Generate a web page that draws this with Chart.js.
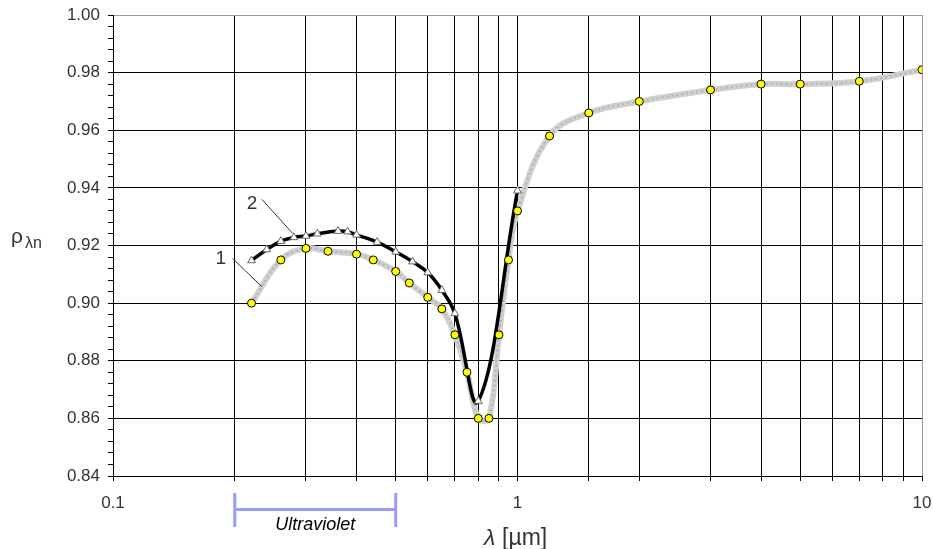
<!DOCTYPE html>
<html>
<head>
<meta charset="utf-8">
<script src="https://cdn.jsdelivr.net/npm/chart.js@4/dist/chart.umd.min.js"></script>
<style>
  html, body { margin: 0; padding: 0; background: #fff; }
  #wrap { width: 933px; height: 549px; }
</style>
</head>
<body>
<div id="wrap"><canvas id="chart" width="933" height="549"></canvas></div>
<script>
// curve 1 (grey line, yellow dots)
const lambda1 = [0.22, 0.26, 0.3, 0.34, 0.4, 0.44, 0.5, 0.54, 0.6, 0.65, 0.7, 0.75, 0.8, 0.85, 0.9, 0.95, 1, 1.2, 1.5, 2, 3, 4, 5, 7, 10];
const rho1 = [0.900, 0.915, 0.919, 0.918, 0.917, 0.915, 0.911, 0.907, 0.902, 0.898, 0.889, 0.876, 0.860, 0.860, 0.889, 0.915, 0.932, 0.958, 0.966, 0.970, 0.974, 0.976, 0.976, 0.977, 0.981];

// curve 2 (black line, triangles)
const lambda2 = [0.22, 0.24, 0.26, 0.28, 0.3, 0.32, 0.36, 0.38, 0.4, 0.45, 0.5, 0.55, 0.6, 0.65, 0.7, 0.8, 1];
const rho2 = [0.9148, 0.9186, 0.9215, 0.9228, 0.9233, 0.9241, 0.9250, 0.9248, 0.9237, 0.9212, 0.9178, 0.9144, 0.9106, 0.9045, 0.8964, 0.866, 0.939];

const xLabels = [0.1, 1, 10];
const yMajor = [0.84, 0.86, 0.88, 0.90, 0.92, 0.94, 0.96, 0.98, 1.00];

// curve numbers with leader lines, in data coordinates
const tagText = ['1', '2'];
const tagAt = [[0.1848, 0.9153], [0.2205, 0.9344]];
const tagFrom = [[0.1975, 0.9155], [0.2334, 0.936]];
const tagTo = [[0.2334, 0.9057], [0.278, 0.9242]];

// ultraviolet range
const uvRange = [0.2, 0.5];

const pts = (xs, ys) => xs.map((x, i) => ({ x, y: ys[i] }));
const isMajorY = v => yMajor.some(m => Math.abs(m - v) < 1e-6);

const FONT = '"Liberation Sans", Arial, sans-serif';

const extras = {
  id: 'extras',
  afterDatasetsDraw(chart) {
    const { ctx, scales: { x, y } } = chart;
    ctx.save();
    // curve numbers
    ctx.strokeStyle = '#333';
    ctx.lineWidth = 1;
    ctx.fillStyle = '#333';
    ctx.font = '19px ' + FONT;
    ctx.textAlign = 'center';
    ctx.textBaseline = 'middle';
    tagText.forEach((t, i) => {
      ctx.beginPath();
      ctx.moveTo(x.getPixelForValue(tagFrom[i][0]), y.getPixelForValue(tagFrom[i][1]));
      ctx.lineTo(x.getPixelForValue(tagTo[i][0]), y.getPixelForValue(tagTo[i][1]));
      ctx.stroke();
      ctx.fillText(t, x.getPixelForValue(tagAt[i][0]), y.getPixelForValue(tagAt[i][1]));
    });
    ctx.restore();
  },
  afterDraw(chart) {
    const { ctx, scales: { x } } = chart;
    ctx.save();
    // UV bracket
    const x0 = x.getPixelForValue(uvRange[0]);
    const x1 = x.getPixelForValue(uvRange[1]);
    ctx.strokeStyle = '#9b9bff';
    ctx.lineWidth = 3;
    ctx.beginPath();
    ctx.moveTo(x0, 493); ctx.lineTo(x0, 527);
    ctx.moveTo(x1, 493); ctx.lineTo(x1, 527);
    ctx.moveTo(x0, 509.5); ctx.lineTo(x1, 509.5);
    ctx.stroke();
    ctx.fillStyle = '#000';
    ctx.font = 'italic 18px ' + FONT;
    ctx.textAlign = 'center';
    ctx.textBaseline = 'alphabetic';
    ctx.fillText('Ultraviolet', (x0 + x1) / 2, 530);

    // x axis title
    ctx.fillStyle = '#333';
    ctx.textAlign = 'left';
    ctx.font = 'italic 23px ' + FONT;
    ctx.fillText('λ', 484, 545);
    ctx.font = '23px ' + FONT;
    ctx.fillText('[µm]', 502, 545);

    // y axis title
    ctx.font = '21px ' + FONT;
    ctx.fillText('ρ', 11, 243);
    ctx.font = '16px ' + FONT;
    ctx.fillText('λn', 25, 248);
    ctx.restore();
  }
};

new Chart(document.getElementById('chart'), {
  type: 'scatter',
  data: {
    datasets: [
      {
        data: pts(lambda1, rho1),
        showLine: false,
        pointRadius: 4,
        pointBackgroundColor: '#ffff00',
        pointBorderColor: '#000',
        pointBorderWidth: 1,
        order: 0
      },
      {
        data: pts(lambda2, rho2),
        showLine: true,
        borderColor: '#000',
        borderWidth: 3.5,
        tension: 0.4,
        pointStyle: 'triangle',
        pointRadius: 4.5,
        pointBackgroundColor: '#fff',
        pointBorderColor: '#666',
        pointBorderWidth: 1,
        order: 1
      },
      {
        data: pts(lambda1, rho1),
        showLine: true,
        borderColor: '#b4b4b4',
        borderWidth: 2,
        borderDash: [2, 3],
        tension: 0.4,
        pointRadius: 0,
        order: 2
      },
      {
        data: pts(lambda1, rho1),
        showLine: true,
        borderColor: '#d0d0d0',
        borderWidth: 6,
        tension: 0.4,
        pointRadius: 0,
        order: 3
      }
    ]
  },
  options: {
    responsive: false,
    devicePixelRatio: 1,
    animation: false,
    layout: { padding: { top: 15, right: 11, left: 0, bottom: 0 } },
    plugins: { legend: { display: false }, tooltip: { enabled: false } },
    scales: {
      x: {
        type: 'logarithmic',
        min: 0.1,
        max: 10,
        afterFit(s) { s.height = 73; s.paddingLeft = 0; s.paddingRight = 0; },
        border: { color: '#000', width: 1 },
        grid: {
          color: c => (c.tick && c.tick.value >= 10 ? '#999' : '#000'),
          tickColor: '#000',
          tickLength: 5,
          lineWidth: 1
        },
        ticks: {
          autoSkip: false,
          maxRotation: 0,
          padding: 12,
          color: '#333',
          font: { family: FONT, size: 17 },
          callback: v => (xLabels.some(l => Math.abs(l - v) < 1e-9) ? String(v) : '')
        }
      },
      y: {
        min: 0.84,
        max: 1.0,
        afterFit(s) { s.width = 113; s.paddingTop = 0; s.paddingBottom = 0; },
        border: { color: '#000', width: 1 },
        grid: {
          color: c => (isMajorY(c.tick.value) ? (c.tick.value > 0.999 ? '#999' : '#000') : 'rgba(0,0,0,0)'),
          tickColor: '#000',
          tickLength: 5,
          lineWidth: 1
        },
        ticks: {
          stepSize: 0.004,
          maxTicksLimit: 100,
          autoSkip: false,
          padding: 8,
          color: '#333',
          font: { family: FONT, size: 17 },
          callback: v => (isMajorY(v) ? v.toFixed(2) : '')
        }
      }
    }
  },
  plugins: [extras]
});
</script>
</body>
</html>
